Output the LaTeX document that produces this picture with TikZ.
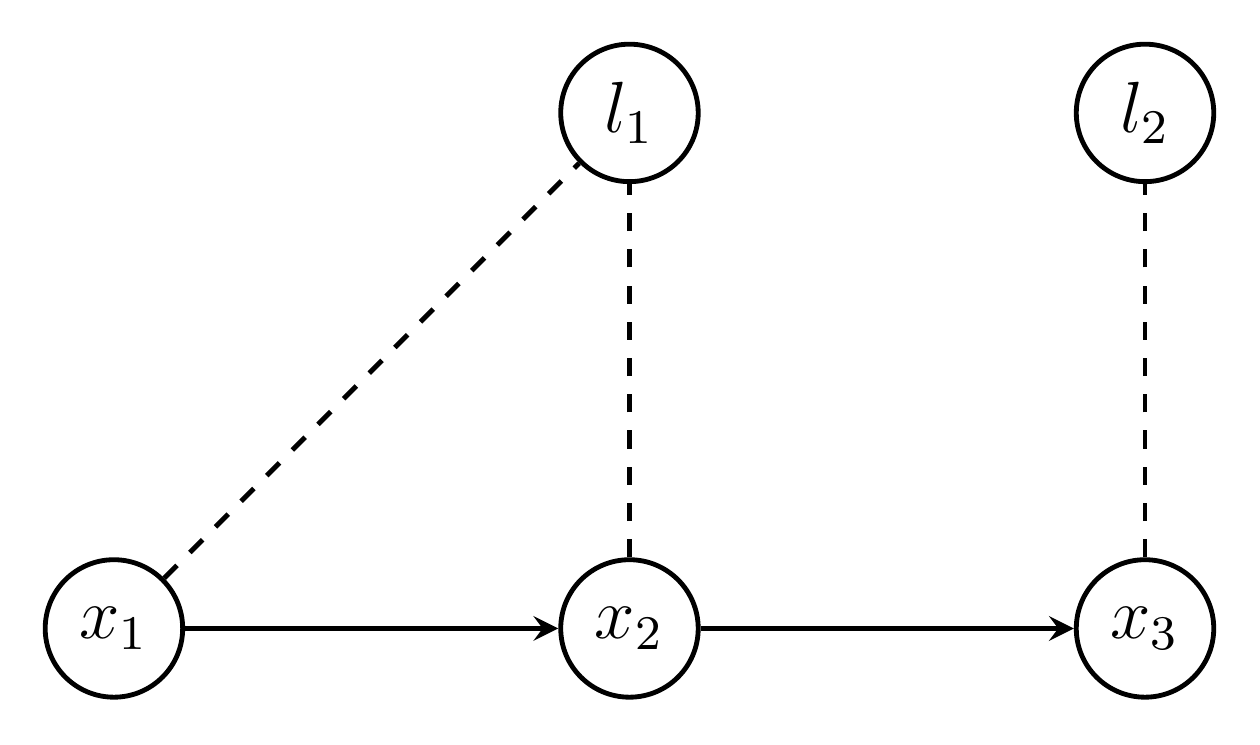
\documentclass[tikz,border=0pt]{standalone}
\usepackage{amsmath}
\usetikzlibrary{shapes.geometric, arrows, positioning}

\begin{document}
\begin{tikzpicture}[node distance=3cm]

% Define styles
\tikzstyle{state} = [circle, minimum size=0.8cm, inner sep=0pt, draw=black, thick, font=\large]
\tikzstyle{arrow} = [thick,->,>=stealth]
\tikzstyle{link} = [thick, dashed]

\useasboundingbox (-0.663,-0.674) rectangle (6.669,3.657);

% Nodes
\node (x1) [state] {$x_1$};
\node (x2) [state, right of=x1] {$x_2$};
\node (x3) [state, right of=x2] {$x_3$};
\node (l1) [state, above of=x2] {$l_1$};
\node (l2) [state, above of=x3] {$l_2$};

% Arrows
\draw [arrow] (x1) -- (x2);
\draw [arrow] (x2) -- (x3);

% Dashed links to landmarks
\draw [link] (x1) -- (l1);
\draw [link] (x2) -- (l1);
\draw [link] (x3) -- (l2);

\end{tikzpicture}
\end{document}
